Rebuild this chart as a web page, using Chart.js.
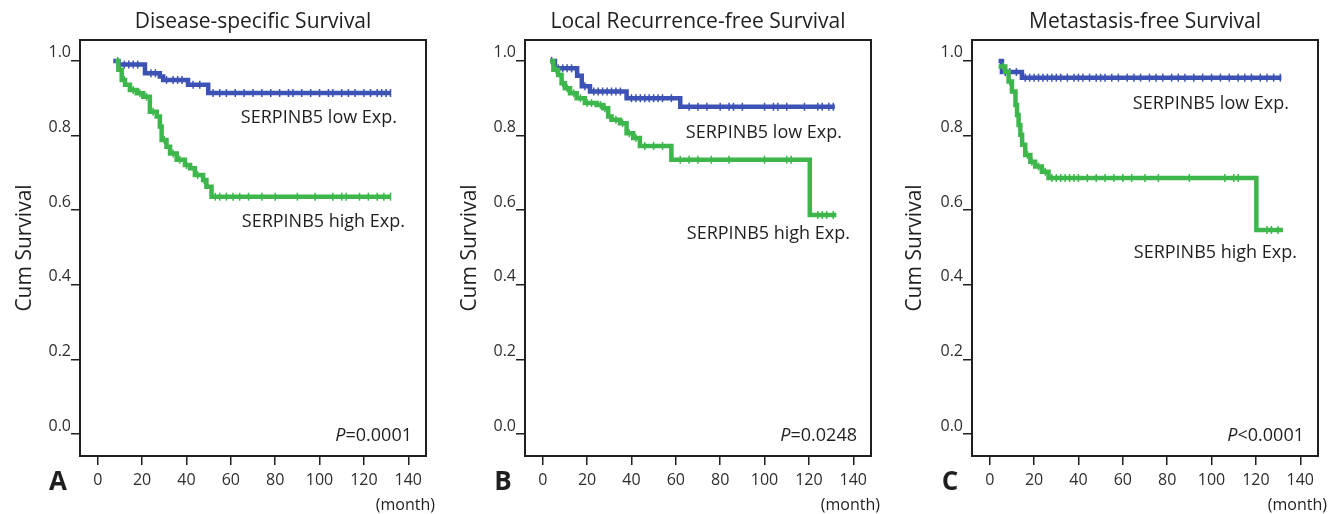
<!DOCTYPE html>
<html>
<head>
<meta charset="utf-8">
<script src="https://cdn.jsdelivr.net/npm/chart.js@4.4.0/dist/chart.umd.min.js"></script>
<style>
  html, body { margin: 0; padding: 0; background: #fff; }
  .panel { position: absolute; top: 0; height: 514px; }
</style>
</head>
<body>
<div class="panel" style="left:0px;width:445px"><canvas id="chartA" width="445" height="514"></canvas></div>
<div class="panel" style="left:445px;width:445px"><canvas id="chartB" width="445" height="514"></canvas></div>
<div class="panel" style="left:890px;width:444px"><canvas id="chartC" width="444" height="514"></canvas></div>
<script>
const xTicks = [0, 20, 40, 60, 80, 100, 120, 140];
const yTicks = [0.0, 0.2, 0.4, 0.6, 0.8, 1.0];

// A: disease-specific survival (months / cumulative survival)
const dssLowTime = [7, 9.3, 21.3, 28, 29.5, 40.7, 49.8, 132];
const dssLowSurv = [1.0, 0.99, 0.967, 0.958, 0.949, 0.936, 0.914, 0.914];
const dssLowCens = [10, 12, 14, 16, 18, 24, 26, 31, 34, 36, 38, 43, 46, 52, 55, 58, 62, 66, 70, 74, 78, 82, 86, 88, 92, 96, 100, 104, 106, 110, 113, 116, 120, 123, 126, 128, 130, 132];
const dssHighTime = [8, 9.3, 10.8, 12.3, 14.5, 17.6, 20.5, 23.5, 26.6, 28, 28.8, 31, 32.6, 35.6, 39.3, 41.6, 43.8, 47.5, 49, 51.3, 132];
const dssHighSurv = [1.0, 0.976, 0.949, 0.936, 0.922, 0.913, 0.904, 0.864, 0.851, 0.824, 0.788, 0.77, 0.752, 0.735, 0.721, 0.712, 0.694, 0.681, 0.663, 0.636, 0.636];
const dssHighCens = [9, 12, 16, 19, 22, 25, 30, 34, 37, 40, 45, 48, 53, 55, 58, 61, 64, 68, 74, 80, 90, 98, 106, 110, 112, 118, 122, 126, 129, 132];

// B: local recurrence-free survival
const lrfsLowTime = [3.3, 5.5, 15.5, 17.6, 21.3, 37.8, 62, 131.7];
const lrfsLowSurv = [1.0, 0.98, 0.96, 0.932, 0.918, 0.9, 0.877, 0.877];
const lrfsLowCens = [4, 7, 9, 11, 13, 19, 23, 25, 27, 29, 31, 33, 35, 40, 42, 44, 46, 48, 50, 52, 54, 58, 66, 70, 74, 80, 84, 86, 90, 100, 104, 106, 110, 118, 124, 126, 129, 131];
const lrfsHighTime = [3.3, 4.8, 7, 8.5, 10, 12.3, 15.3, 19, 24.3, 27.3, 29.5, 31, 34.8, 37.8, 40.8, 43.8, 58, 120.4, 132.4];
const lrfsHighSurv = [1.0, 0.976, 0.962, 0.94, 0.927, 0.913, 0.9, 0.887, 0.882, 0.873, 0.851, 0.842, 0.833, 0.806, 0.793, 0.772, 0.735, 0.587, 0.587];
const lrfsHighCens = [6, 9, 11, 14, 17, 20, 22, 26, 28, 33, 36, 39, 42, 46, 50, 54, 62, 66, 70, 76, 84, 100, 110, 112, 124, 126, 128, 131];

// C: metastasis-free survival
const mfsLowTime = [4, 5.5, 14.5, 131.5];
const mfsLowSurv = [1.0, 0.97, 0.955, 0.955];
const mfsLowCens = [7, 9, 12, 16, 18, 20, 22, 24, 26, 28, 30, 32, 35, 38, 40, 42, 45, 48, 50, 52, 55, 58, 62, 65, 68, 72, 75, 78, 82, 85, 88, 92, 96, 100, 104, 108, 112, 115, 118, 122, 125, 128, 131];
const mfsHighTime = [4, 7, 8.5, 10, 11.6, 12.3, 13, 13.8, 14.6, 16, 18.3, 20.5, 23.5, 26.5, 120.2, 132.2];
const mfsHighSurv = [0.985, 0.971, 0.945, 0.918, 0.882, 0.855, 0.828, 0.802, 0.775, 0.748, 0.73, 0.717, 0.703, 0.686, 0.547, 0.547];
const mfsHighCens = [6, 9, 17, 19, 22, 25, 28, 30, 32, 34, 36, 38, 40, 44, 48, 52, 56, 60, 64, 70, 76, 90, 106, 110, 112, 125, 127, 130];

const BLUE = '#3c52b4';
const GREEN = '#3db64b';
const INK = '#1f1f1f';
const FONT = '"Open Sans", "Noto Sans", sans-serif';

function survAt(times, surv, t) {
  let s = surv[0];
  for (let i = 0; i < times.length; i++) {
    if (times[i] <= t) s = surv[i];
  }
  return s;
}

function curve(times, surv) {
  return times.map((t, i) => ({ x: t, y: surv[i] }));
}

function censorMarks(times, surv, cens) {
  return cens.map(t => ({ x: t, y: survAt(times, surv, t) }));
}

// frame + text annotations inside each panel
const panelText = {
  id: 'panelText',
  afterDraw(chart, args, o) {
    const ctx = chart.ctx;
    const a = chart.chartArea;
    ctx.save();
    ctx.strokeStyle = INK;
    ctx.lineWidth = 2;
    ctx.strokeRect(a.left, a.top, a.right - a.left, a.bottom - a.top);

    ctx.fillStyle = INK;
    ctx.textBaseline = 'middle';
    ctx.textAlign = 'right';
    ctx.font = '18px ' + FONT;
    ctx.fillText('SERPINB5 low Exp.', a.right - 29, o.lowY);
    ctx.fillText('SERPINB5 high Exp.', a.right - 21, o.highY);

    // P value with italic P
    ctx.font = '18px ' + FONT;
    const rest = o.p;
    const wRest = ctx.measureText(rest).width;
    ctx.fillText(rest, a.right - 14, 436);
    ctx.font = 'italic 18px ' + FONT;
    ctx.fillText('P', a.right - 14 - wRest, 436);

    ctx.font = '16px ' + FONT;
    ctx.fillText('(month)', a.right + 9, 505);

    ctx.textAlign = 'center';
    ctx.font = 'bold 26px ' + FONT;
    ctx.fillText(o.letter, a.left - 22, 483);
    ctx.restore();
  }
};

function makeChart(id, o) {
  return new Chart(document.getElementById(id), {
    type: 'line',
    data: {
      datasets: [
        { data: curve(o.lowT, o.lowS), borderColor: BLUE, borderWidth: 4.5, stepped: 'before', pointRadius: 0, order: 2 },
        { data: curve(o.highT, o.highS), borderColor: GREEN, borderWidth: 4.5, stepped: 'before', pointRadius: 0, order: 1 },
        { data: censorMarks(o.lowT, o.lowS, o.lowC), showLine: false, pointStyle: 'line', rotation: 90, pointRadius: 4, borderColor: BLUE, borderWidth: 1.5, order: 2 },
        { data: censorMarks(o.highT, o.highS, o.highC), showLine: false, pointStyle: 'line', rotation: 90, pointRadius: 4, borderColor: GREEN, borderWidth: 1.5, order: 1 }
      ]
    },
    options: {
      responsive: false,
      animation: false,
      layout: { padding: { left: 0, right: o.padRight, top: 0, bottom: 0 } },
      plugins: {
        legend: { display: false },
        tooltip: { enabled: false },
        title: {
          display: true,
          text: o.title,
          fullSize: false,
          color: INK,
          font: { family: FONT, size: 21, weight: 'normal' },
          padding: { top: 9.4, bottom: 5.4 }
        },
        panelText: { letter: o.letter, p: o.p, lowY: o.lowY, highY: o.highY }
      },
      scales: {
        x: {
          type: 'linear',
          min: -8,
          max: 148,
          afterBuildTicks: s => { s.ticks = xTicks.map(v => ({ value: v })); },
          afterFit: s => { s.height = 58; },
          border: { display: false },
          grid: { display: true, drawOnChartArea: false, drawTicks: true, tickLength: 9, color: INK, lineWidth: 1.5 },
          ticks: { color: '#2e2e2e', padding: 6, maxRotation: 0, font: { family: FONT, size: 16 } }
        },
        y: {
          type: 'linear',
          min: -0.059,
          max: 1.056,
          afterBuildTicks: s => { s.ticks = yTicks.map(v => ({ value: v })); },
          afterFit: s => { s.width = o.padLeft; },
          border: { display: false },
          grid: { display: true, drawOnChartArea: false, drawTicks: true, tickLength: 9, color: INK, lineWidth: 1.5 },
          ticks: { color: '#2e2e2e', padding: 0, labelOffset: -8, font: { family: FONT, size: 16 }, callback: v => v.toFixed(1) },
          title: { display: true, text: 'Cum Survival', color: INK, font: { family: FONT, size: 21 }, padding: { top: 12, bottom: 0 } }
        }
      }
    },
    plugins: [panelText]
  });
}

makeChart('chartA', {
  title: 'Disease-specific Survival', letter: 'A', p: '=0.0001',
  lowT: dssLowTime, lowS: dssLowSurv, lowC: dssLowCens,
  highT: dssHighTime, highS: dssHighSurv, highC: dssHighCens,
  padLeft: 80, padRight: 19, lowY: 118, highY: 222
});

makeChart('chartB', {
  title: 'Local Recurrence-free Survival', letter: 'B', p: '=0.0248',
  lowT: lrfsLowTime, lowS: lrfsLowSurv, lowC: lrfsLowCens,
  highT: lrfsHighTime, highS: lrfsHighSurv, highC: lrfsHighCens,
  padLeft: 80, padRight: 19, lowY: 133, highY: 234
});

makeChart('chartC', {
  title: 'Metastasis-free Survival', letter: 'C', p: '<0.0001',
  lowT: mfsLowTime, lowS: mfsLowSurv, lowC: mfsLowCens,
  highT: mfsHighTime, highS: mfsHighSurv, highC: mfsHighCens,
  padLeft: 82, padRight: 16, lowY: 104, highY: 253
});
</script>
</body>
</html>
